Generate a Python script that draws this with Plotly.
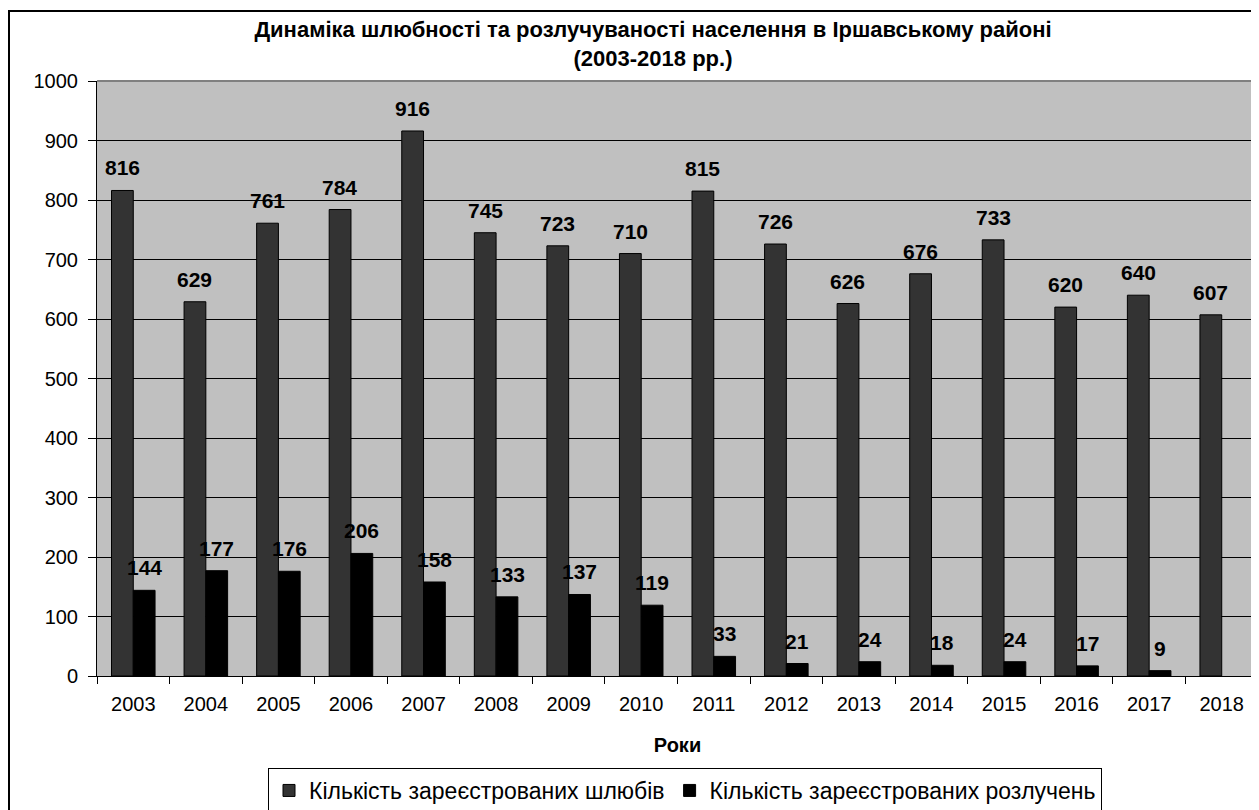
import plotly.graph_objects as go

years = ["2003", "2004", "2005", "2006", "2007", "2008", "2009", "2010",
         "2011", "2012", "2013", "2014", "2015", "2016", "2017", "2018"]
marriages = [816, 629, 761, 784, 916, 745, 723, 710, 815, 726, 626, 676, 733, 620, 640, 607]
divorces = [144, 177, 176, 206, 158, 133, 137, 119, 33, 21, 24, 18, 24, 17, 9, None]

title_text = "Динаміка шлюбності та розлучуваності населення в Іршавському районі<br>(2003-2018 рр.)"
series_names = ["Кількість зареєстрованих шлюбів", "Кількість зареєстрованих розлучень"]
x_title = "Роки"

FONT = "Arial, 'Liberation Sans', sans-serif"

fig = go.Figure()
fig.add_trace(go.Bar(
    x=years, y=marriages, name=series_names[0],
    marker=dict(color="#333333", line=dict(color="#000000", width=1)),
))
fig.add_trace(go.Bar(
    x=years, y=divorces, name=series_names[1],
    marker=dict(color="#000000", line=dict(color="#000000", width=1)),
))

# data labels anchored to the bar values (category index on the category axis,
# shifted to each bar of the group)
annotations = []
for series, shift in ((marriages, -11), (divorces, 11)):
    for i, v in enumerate(series):
        if v is None:
            continue
        annotations.append(dict(
            x=i, y=v, xref="x", yref="y", text=str(v), showarrow=False,
            xanchor="center", yanchor="bottom", xshift=shift, yshift=9,
            font=dict(family=FONT, size=21, color="#000000", weight="bold"),
        ))

# figure is placed at an 8px page offset; coordinates below are figure pixels
W, H = 1251, 802
L, T, R_PX, B_PX = 89, 73, 1250, 668
pw, ph = R_PX - L, B_PX - T

def px_x(px):
    return (px - L) / pw

def px_y(py):
    return (B_PX - py) / ph

fig.update_layout(
    width=W, height=H,
    margin=dict(l=L, r=W - R_PX, t=T, b=H - B_PX),
    paper_bgcolor="#FFFFFF", plot_bgcolor="#C0C0C0",
    barmode="group", bargap=0.4, bargroupgap=0.0,
    font=dict(family=FONT, size=20, color="#000000"),
    title=dict(text=title_text, x=645 / W, xanchor="center", xref="container",
               y=1 - 29 / H, yanchor="top", yref="container",
               font=dict(family=FONT, size=22, color="#000000", weight="bold")),
    showlegend=True,
    legend=dict(orientation="h", xref="container", yref="container",
                x=677 / W, xanchor="center", y=1 - 760 / H, yanchor="top",
                bordercolor="#000000", borderwidth=1, bgcolor="#FFFFFF",
                font=dict(family=FONT, size=23, color="#000000"),
                itemwidth=30, tracegroupgap=0),
    xaxis=dict(
        type="category",
        range=[-0.5, len(years) - 0.5],
        title=dict(text=x_title, standoff=23,
                   font=dict(family=FONT, size=20, color="#000000", weight="bold")),
        showline=True, linecolor="#000000", linewidth=1,
        ticks="outside", tickson="boundaries", ticklen=7, tickcolor="#000000",
        tickfont=dict(family=FONT, size=20, color="#000000"),
        ticklabelstandoff=10,
        tickangle=0,
        showgrid=False,
    ),
    yaxis=dict(
        range=[0, 1000], dtick=100, tick0=0,
        showline=True, linecolor="#000000", linewidth=1,
        ticks="outside", ticklen=8, tickcolor="#000000",
        tickfont=dict(family=FONT, size=20, color="#000000"),
        ticklabelstandoff=6,
        showgrid=True, gridcolor="#000000", gridwidth=1,
        zeroline=False,
    ),
    annotations=annotations,
    shapes=[
        dict(type="line", xref="paper", yref="paper", x0=0, x1=1, y0=1, y1=1,
             line=dict(color="#808080", width=2)),
        dict(type="rect", xref="paper", yref="paper",
             x0=px_x(1), x1=px_x(1300), y0=px_y(3), y1=px_y(830),
             line=dict(color="#000000", width=2), fillcolor="rgba(0,0,0,0)", layer="above"),
    ],
)

fig.write_html("out.html")
